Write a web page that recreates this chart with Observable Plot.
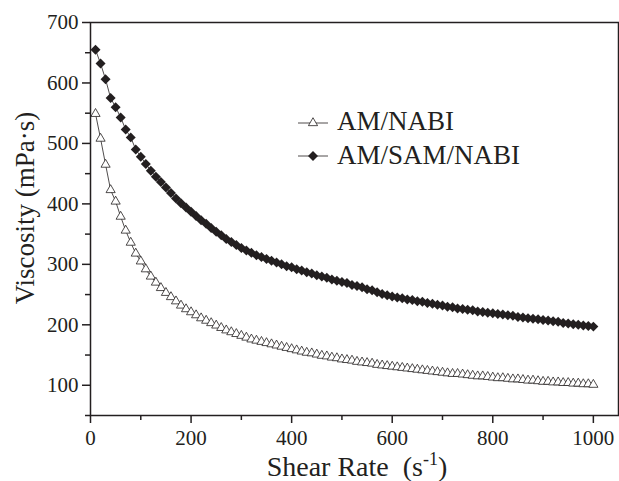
<!DOCTYPE html>
<html>
<head>
<meta charset="utf-8">
<script src="https://cdn.jsdelivr.net/npm/d3@7"></script>
<script src="https://cdn.jsdelivr.net/npm/@observablehq/plot@0.6"></script>
<style>
  html, body { margin: 0; padding: 0; background: #fff; }
  #chart { width: 619px; height: 481px; }
</style>
</head>
<body>
<div id="chart"></div>
<script>
// Shear rate (s^-1)
const shearRate = [10,20,30,40,50,60,70,80,90,100,110,120,130,140,150,160,170,180,190,200,
  210,220,230,240,250,260,270,280,290,300,310,320,330,340,350,360,370,380,390,400,
  410,420,430,440,450,460,470,480,490,500,510,520,530,540,550,560,570,580,590,600,
  610,620,630,640,650,660,670,680,690,700,710,720,730,740,750,760,770,780,790,800,
  810,820,830,840,850,860,870,880,890,900,910,920,930,940,950,960,970,980,990,1000];

// Viscosity (mPa·s), AM/NABI
const viscAM = [549,508,465,423,404,379,356,336,318,305,292,280,270,261,253,246,239,232,226,221,
  216,211,207,203,199,195,191,188,185,182,179,176,174,172,170,168,166,164,162,160,
  158,156,154,153,151,149,148,146,145,143,142,141,139,138,137,136,134,133,132,131,
  130,129,128,127,126,125,124,123,122,121,120,119,119,118,117,116,115,115,114,113,
  112,112,111,110,110,109,108,108,107,106,106,105,105,104,104,103,103,102,102,101];

// Viscosity (mPa·s), AM/SAM/NABI
const viscSAM = [655,632,606,575,560,543,523,510,490,478,466,455,445,436,427,418,409,401,394,387,
  380,373,367,360,354,348,342,337,332,327,323,319,315,312,309,306,303,300,297,295,
  292,290,287,285,282,280,278,275,273,271,269,266,264,262,259,257,254,251,249,247,
  245,244,242,241,239,238,236,235,233,232,230,229,227,226,225,224,222,221,220,219,
  218,217,216,215,213,212,211,210,209,208,207,206,205,203,202,201,200,199,198,197];

const seriesNames = ["AM/NABI", "AM/SAM/NABI"];
const xMajor = [0, 200, 400, 600, 800, 1000];
const xMinor = [100, 300, 500, 700, 900];
const yMajor = [100, 200, 300, 400, 500, 600, 700];
const yMinor = [50, 150, 250, 350, 450, 550, 650];

const am = shearRate.map((x, i) => ({x, y: viscAM[i]}));
const sam = shearRate.map((x, i) => ({x, y: viscSAM[i]}));

const ink = "#231f20";
const font = "'Liberation Serif', 'Times New Roman', serif";

const chart = Plot.plot({
  width: 619,
  height: 481,
  marginLeft: 90,
  marginRight: 1,
  marginTop: 22,
  marginBottom: 66,
  x: {domain: [0, 1050]},
  y: {domain: [50, 700]},
  style: {fontFamily: font, fontSize: "21px", color: ink, background: "#fff", overflow: "visible"},
  marks: [
    Plot.axisX({ticks: xMajor, tickSize: 8, tickPadding: 7, label: null, tickFormat: d => String(d), strokeWidth: 1.5}),
    Plot.axisX({ticks: xMinor, tickSize: 5, text: null, label: null, strokeWidth: 1.5}),
    Plot.axisY({ticks: yMajor, tickSize: 8, tickPadding: 4, label: null, tickFormat: d => String(d), strokeWidth: 1.5}),
    Plot.axisY({ticks: yMinor, tickSize: 5, text: null, label: null, strokeWidth: 1.5}),
    Plot.line(am, {x: "x", y: "y", stroke: ink, strokeWidth: 0.8}),
    Plot.dot(am, {x: "x", y: "y", symbol: "triangle", r: 3.4, stroke: ink, fill: "#fff", strokeWidth: 0.8}),
    Plot.line(sam, {x: "x", y: "y", stroke: ink, strokeWidth: 0.8}),
    Plot.dot(sam, {x: "x", y: "y", symbol: "diamond2", r: 4.5, fill: ink, stroke: "none"}),
    Plot.frame({stroke: ink, strokeWidth: 1.5}),
    Plot.text(["Viscosity (mPa·s)"], {frameAnchor: "left", dx: -65, dy: -11, rotate: -90,
      textAnchor: "middle", lineAnchor: "middle", fontSize: 27, fill: ink})
  ]
});

const svg = d3.select(chart);

// x-axis title with superscript
const xl = svg.append("text")
  .attr("x", 357).attr("y", 476)
  .attr("text-anchor", "middle")
  .attr("fill", ink)
  .style("font-family", font)
  .style("font-size", "28px")
  .style("white-space", "pre");
xl.append("tspan").text("Shear Rate  (s");
xl.append("tspan").attr("dy", -11).style("font-size", "18px").text("-1");
xl.append("tspan").attr("dy", 11).text(")");

// Legend
const legendRows = [
  {name: seriesNames[0], symbol: d3.symbolTriangle, size: Math.PI * 3.4 * 3.4, fill: "#fff", stroke: ink, ly: 123, ty: 130},
  {name: seriesNames[1], symbol: d3.symbolDiamond2, size: Math.PI * 4.5 * 4.5, fill: ink, stroke: "none", ly: 156, ty: 164}
];
const lg = svg.append("g").attr("text-anchor", "start");
legendRows.forEach(r => {
  lg.append("line").attr("x1", 298).attr("x2", 328).attr("y1", r.ly).attr("y2", r.ly)
    .attr("stroke", ink).attr("stroke-width", 0.8);
  lg.append("path").attr("d", d3.symbol(r.symbol, r.size)())
    .attr("transform", `translate(313,${r.ly})`)
    .attr("fill", r.fill).attr("stroke", r.stroke).attr("stroke-width", 0.8);
  lg.append("text").attr("x", 337).attr("y", r.ty).attr("fill", ink)
    .attr("text-anchor", "start")
    .style("font-family", font).style("font-size", "27px").text(r.name);
});

document.getElementById("chart").appendChild(chart);
</script>
</body>
</html>
